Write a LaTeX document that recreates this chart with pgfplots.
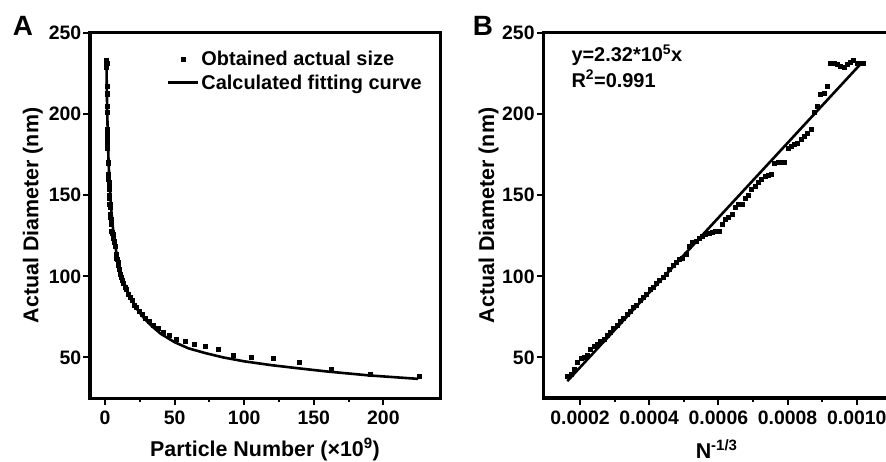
\documentclass[border=0pt]{standalone}
\usepackage{pgfplots}
\pgfplotsset{compat=1.18}
\usepackage{pgfplotstable}
\usepackage{fontspec}
\setmainfont{Liberation Sans}

\pgfplotstableread{
x N D
0.0001643 225.5 38.1
0.0001738 190.5 39.7
0.0001833 162.4 42.6
0.0001928 139.5 46.9
0.0002023 120.8 49.2
0.0002118 105.3 50.4
0.0002213 92.27 51.4
0.0002308 81.34 54.9
0.0002403 72.07 57.0
0.0002498 64.16 58.0
0.0002593 57.36 59.7
0.0002688 51.49 61.5
0.0002783 46.39 63.6
0.0002878 41.95 65.6
0.0002973 38.06 68.2
0.0003068 34.63 69.8
0.0003163 31.60 72.5
0.0003258 28.92 73.9
0.0003353 26.53 76.8
0.0003448 24.40 78.3
0.0003543 22.48 80.9
0.0003638 20.77 82.4
0.0003733 19.22 85.3
0.0003828 17.83 86.8
0.0003923 16.56 88.9
0.0004018 15.42 91.9
0.0004113 14.37 93.1
0.0004208 13.42 95.9
0.0004303 12.55 97.4
0.0004398 11.76 99.6
0.0004493 11.03 101.0
0.0004588 10.35 104.6
0.0004683 9.737 107.0
0.0004778 9.168 108.6
0.0004873 8.642 110.4
0.0004968 8.156 111.4
0.0005063 7.705 113.8
0.0005158 7.287 118.7
0.0005253 6.899 121.2
0.0005348 6.538 121.7
0.0005443 6.201 123.5
0.0005538 5.888 124.7
0.0005633 5.595 125.8
0.0005728 5.321 126.8
0.0005823 5.065 127.2
0.0005918 4.825 127.5
0.0006013 4.600 127.8
0.0006108 4.388 132.0
0.0006203 4.190 135.1
0.0006298 4.003 136.7
0.0006393 3.827 138.1
0.0006488 3.662 142.3
0.0006583 3.505 144.3
0.0006678 3.358 144.3
0.0006773 3.218 148.4
0.0006868 3.087 149.8
0.0006963 2.962 153.5
0.0007058 2.844 155.6
0.0007153 2.732 157.7
0.0007248 2.626 159.7
0.0007343 2.526 161.4
0.0007438 2.430 162.2
0.0007533 2.339 162.8
0.0007628 2.253 170.0
0.0007723 2.171 170.4
0.0007818 2.093 170.4
0.0007913 2.018 170.6
0.0008008 1.947 179.2
0.0008103 1.880 179.9
0.0008198 1.815 181.3
0.0008293 1.753 182.3
0.0008388 1.694 184.4
0.0008483 1.638 186.4
0.0008578 1.584 188.5
0.0008673 1.533 190.5
0.0008768 1.484 201.2
0.0008863 1.436 204.9
0.0008958 1.391 212.1
0.0009053 1.348 213.1
0.0009148 1.306 217.2
0.0009243 1.266 231.2
0.0009338 1.228 231.2
0.0009433 1.191 231.0
0.0009528 1.156 229.6
0.0009623 1.122 228.6
0.0009718 1.090 230.5
0.0009813 1.058 232.0
0.0009908 1.028 233.3
0.0010003 0.9991 231.2
0.0010098 0.9712 231.2
0.0010193 0.9443 231.2
}\dataset

\pgfplotstableread{
N D
0.97 234.0
1.2 221.0
1.5 205.0
2 185.7
2.5 171.8
3 161.5
4 146.4
5 135.6
6 127.4
8 115.4
10 106.9
12 100.5
15 93.0
19 85.6
23 79.8
28 74.2
33 69.8
40 64.6
50 59.4
60 55.6
72 52.7
85 50.0
100 47.6
120 45.2
140 43.2
160 41.3
190 38.9
225 36.8
}\fitA

\pgfplotsset{
  common/.style={
    scale only axis,
    clip=false,
    ymin=25, ymax=250,
    ytick={50,100,150,200,250},
    tick pos=left,
    tick align=outside,
    major tick length=6.5bp,
    minor tick length=4bp,
    tick style={black, line width=2bp},
    minor x tick num=1,
    /pgf/number format/assume math mode=true,
    tick label style={font=\fontsize{19.5}{20}\selectfont\bfseries},
    yticklabel style={inner xsep=2bp},
    xticklabel style={inner ysep=6bp},
    label style={font=\fontsize{21.5}{24}\selectfont\bfseries},
  },
  legline/.style={legend image code/.code={\draw[##1] (0bp,0bp) -- (30bp,0bp);}},
  legmark/.style={legend image code/.code={\draw[mark repeat=2,mark phase=2,##1] plot coordinates {(0bp,0bp) (15bp,0bp) (30bp,0bp)};}},
  marksty/.style={only marks, mark=square*, mark size=2bp, black, line width=0.5bp},
  linesty/.style={black, line width=2.6bp},
}

\begin{document}
\begin{tikzpicture}
\useasboundingbox (0,0) rectangle (886bp,462bp);

\begin{axis}[common,
  at={(90bp,64bp)}, anchor=south west,
  width=350bp, height=365bp,
  xmin=-10.8, xmax=240.7,
  xtick={0,50,100,150,200},
  xlabel={Particle Number (×10\textsuperscript{9})},
  ylabel={Actual Diameter (nm)},
  xlabel style={at={(axis description cs:0.5,-0.16)}, anchor=base},
  ylabel style={at={(axis description cs:-0.163,0.5)}, anchor=center},
  legend style={at={(axis description cs:0.219,0.8964)}, anchor=west,
    draw=none, fill=none, inner xsep=0pt, inner ysep=0pt, row sep=4bp,
    font=\fontsize{20}{22}\selectfont\bfseries, cells={anchor=west}},
]
\addplot[marksty, legmark] table[x=N,y=D]{\dataset};
\addplot[linesty, legline] table[x=N,y=D]{\fitA};
\legend{Obtained actual size, Calculated fitting curve}
\draw[line width=3bp, line cap=rect] (rel axis cs:0,0) rectangle (rel axis cs:1,1);
\end{axis}

\begin{axis}[common,
  at={(543.3bp,64bp)}, anchor=south west,
  width=346.7bp, height=365bp,
  xmin=0.0000939, xmax=0.001096,
  scaled x ticks=false,
  xtick={0.0002,0.0004,0.0006,0.0008,0.0010},
  xticklabels={0.0002,0.0004,0.0006,0.0008,0.0010},
  xlabel={N\textsuperscript{-1/3}},
  ylabel={Actual Diameter (nm)},
  xlabel style={at={(axis description cs:0.5,-0.165)}, anchor=base},
  ylabel style={at={(axis description cs:-0.158,0.5)}, anchor=center},
]
\addplot[marksty] table[x=x,y=D]{\dataset};
\addplot[linesty] coordinates {(0.0001633,35.4) (0.0010097,230.6)};
\draw[line width=3bp, line cap=rect] (rel axis cs:0,0) rectangle (rel axis cs:1,1);
\node[anchor=base west, font=\fontsize{20}{22}\selectfont\bfseries] at (axis description cs:0.0712,0.9214) {y=2.32*10\textsuperscript{5}x};
\node[anchor=base west, font=\fontsize{20}{22}\selectfont\bfseries] at (axis description cs:0.0712,0.8512) {R\textsuperscript{2}=0.991};
\end{axis}

\node[font=\fontsize{28}{28}\selectfont\bfseries] at (23bp,436bp) {A};
\node[font=\fontsize{28}{28}\selectfont\bfseries] at (483bp,436bp) {B};
\end{tikzpicture}
\end{document}
